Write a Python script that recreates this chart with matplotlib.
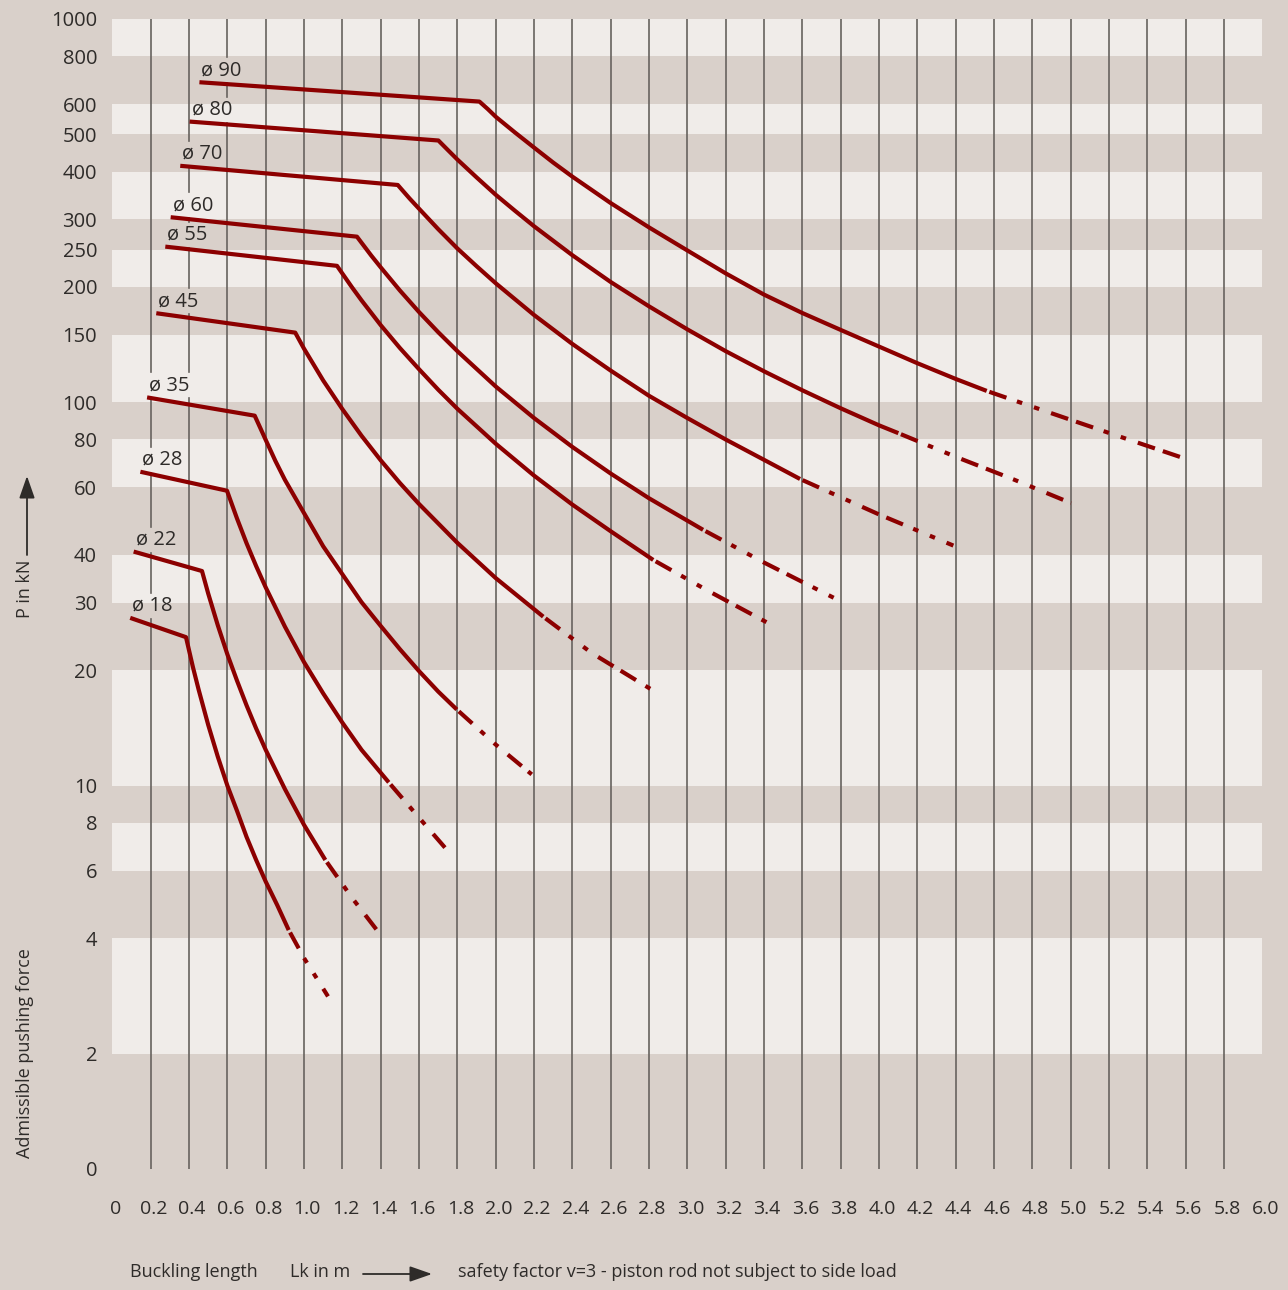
import matplotlib
matplotlib.use('Agg')
import matplotlib.pyplot as plt
import matplotlib.transforms as mtransforms
from matplotlib.patches import FancyArrowPatch

plt.rcParams['font.family'] = ['Open Sans', 'DejaVu Sans']
plt.rcParams['lines.scale_dashes'] = False

W, H = 1288, 1290
DARK = '#d9d0ca'
LIGHT = '#f0ece9'
RED = '#8c0000'
GRID = '#67625e'
INK = '#2e2b29'

# rod diameter labels
rods = ['ø 18', 'ø 22', 'ø 28', 'ø 35', 'ø 45', 'ø 55', 'ø 60', 'ø 70', 'ø 80', 'ø 90']

# buckling length Lk (m) and admissible pushing force P (kN), solid part
lk_18 = [0.093, 0.384, 0.42, 0.45, 0.5, 0.55, 0.6, 0.65, 0.7, 0.75, 0.8, 0.86, 0.92]
p_18 = [27.4, 24.4, 20.4, 17.8, 14.4, 11.9, 10.0, 8.6, 7.35, 6.4, 5.62, 4.88, 4.2]
lk_22 = [0.111, 0.4675, 0.5, 0.55, 0.6, 0.65, 0.7, 0.75, 0.8, 0.9, 1.0, 1.111]
p_22 = [40.8, 36.3, 31.7, 26.2, 22.0, 18.8, 16.2, 14.1, 12.4, 9.8, 7.9, 6.4]
lk_28 = [0.146, 0.598, 0.65, 0.7, 0.75, 0.8, 0.9, 1.0, 1.1, 1.2, 1.3, 1.442]
p_28 = [65.9, 58.8, 49.8, 42.9, 37.4, 32.9, 26.0, 21.0, 17.4, 14.6, 12.4, 10.2]
lk_35 = [0.181, 0.7425, 0.8, 0.85, 0.9, 1.0, 1.1, 1.2, 1.3, 1.4, 1.5, 1.6, 1.7, 1.797]
p_35 = [103, 92.3, 79.8, 70.4, 62.8, 51.4, 42.1, 35.6, 30.1, 26.1, 22.7, 19.9, 17.6, 15.8]
lk_45 = [0.229, 0.954, 1.0, 1.1, 1.2, 1.3, 1.4, 1.5, 1.6, 1.8, 2.0, 2.248]
p_45 = [170.8, 152, 138, 114, 96, 81.8, 70.6, 61.6, 54.3, 43.0, 34.8, 27.6]
lk_55 = [0.276, 1.172, 1.25, 1.3, 1.4, 1.5, 1.6, 1.7, 1.8, 2.0, 2.2, 2.4, 2.6, 2.822]
p_55 = [254.8, 227, 199.6, 184.5, 159, 138.6, 122, 107.9, 96.2, 78, 64.4, 54.1, 46.1, 38.8]
lk_60 = [0.304, 1.276, 1.35, 1.4, 1.5, 1.6, 1.7, 1.8, 2.0, 2.2, 2.4, 2.6, 2.8, 3.082]
p_60 = [304, 270.5, 241.7, 225, 195.8, 172, 152.4, 136, 110, 91, 76.5, 65.2, 56.2, 46.5]
lk_70 = [0.354, 1.489, 1.55, 1.6, 1.7, 1.8, 1.9, 2.0, 2.2, 2.4, 2.6, 2.8, 3.0, 3.2, 3.4, 3.588]
p_70 = [414, 369, 340.5, 320, 283, 252, 226.6, 204.5, 169, 142, 121, 104, 91, 80, 70.8, 63.1]
lk_80 = [0.403, 1.701, 1.75, 1.8, 1.9, 2.0, 2.1, 2.2, 2.4, 2.6, 2.8, 3.0, 3.2, 3.4, 3.6, 3.8,
         4.0, 4.101]
p_80 = [540, 482, 455.4, 430, 386.3, 348, 316.2, 288, 242, 206, 178, 155, 136, 120.5, 107.5,
        96.5, 87.1, 83.1]
lk_90 = [0.454, 1.915, 1.96, 2.0, 2.1, 2.2, 2.3, 2.4, 2.6, 2.8, 3.0, 3.2, 3.4, 3.6, 3.8, 4.0,
         4.2, 4.4, 4.562]
p_90 = [684, 609, 581.4, 556, 506, 462, 422.2, 388, 331, 286, 249, 217, 191, 171, 154.5,
        139.8, 126.5, 115.1, 107.1]

# continuation beyond the solid range (dash-dot)
lk_18x, p_18x = [0.92, 1.0, 1.125], [4.2, 3.55, 2.82]
lk_22x, p_22x = [1.111, 1.25, 1.38], [6.4, 5.1, 4.2]
lk_28x, p_28x = [1.442, 1.6, 1.751], [10.2, 8.25, 6.75]
lk_35x, p_35x = [1.797, 2.0, 2.188], [15.8, 12.8, 10.7]
lk_45x, p_45x = [2.248, 2.5, 2.822], [27.6, 22.2, 17.7]
lk_55x, p_55x = [2.822, 3.1, 3.437], [38.8, 32.4, 26.3]
lk_60x, p_60x = [3.082, 3.4, 3.77], [46.5, 38.2, 30.8]
lk_70x, p_70x = [3.588, 4.0, 4.388], [63.1, 51.0, 42.3]
lk_80x, p_80x = [4.101, 4.4, 4.7, 5.002], [83.1, 72.1, 63.0, 54.6]
lk_90x, p_90x = [4.562, 4.845, 5.188, 5.619], [107.1, 95.7, 83.6, 70.7]

solid = [(lk_18, p_18), (lk_22, p_22), (lk_28, p_28), (lk_35, p_35), (lk_45, p_45),
         (lk_55, p_55), (lk_60, p_60), (lk_70, p_70), (lk_80, p_80), (lk_90, p_90)]
ext = [(lk_18x, p_18x), (lk_22x, p_22x), (lk_28x, p_28x), (lk_35x, p_35x), (lk_45x, p_45x),
       (lk_55x, p_55x), (lk_60x, p_60x), (lk_70x, p_70x), (lk_80x, p_80x), (lk_90x, p_90x)]

# axis ticks
y_ticks = [1, 2, 4, 6, 8, 10, 20, 30, 40, 60, 80, 100, 150, 200, 250, 300, 400, 500, 600, 800, 1000]
y_labels = ['0', '2', '4', '6', '8', '10', '20', '30', '40', '60', '80', '100', '150', '200',
            '250', '300', '400', '500', '600', '800', '1000']
x_ticks = [i * 0.2 for i in range(31)]
x_labels = ['0'] + ['%.1f' % v for v in x_ticks[1:]]

# pale horizontal stripes
light_bands = [(800, 1000), (500, 600), (300, 400), (200, 250), (100, 150),
               (60, 80), (30, 40), (10, 20), (6, 8), (2, 4)]


def fx(px):
    return px / W


def fy(py):
    return 1 - py / H


fig = plt.figure(figsize=(W / 100, H / 100), dpi=100, facecolor=DARK)
ax = fig.add_axes([fx(112.4), fy(1169), fx(1262.3) - fx(112.4), fy(19) - fy(1169)])
ax.set_facecolor(DARK)
ax.set_yscale('log')
ax.set_xlim(0, 6.0)
ax.set_ylim(1, 1000)

for lo, hi in light_bands:
    ax.axhspan(lo, hi, color=LIGHT, lw=0, zorder=0)

dash_dot = (64, (13, 8, 4, 9, 4, 9, 13, 6))
labels = []
for (lk, p), (lkx, px_), name in zip(solid, ext, rods):
    ax.plot(lk, p, color=RED, lw=3.0, solid_capstyle='butt', solid_joinstyle='round', zorder=3)
    ax.plot(lkx, px_, color=RED, lw=3.0, linestyle=dash_dot, zorder=3)
    t = ax.annotate(name, (lk[0], p[0]), xytext=(1.5, 5), textcoords='offset points',
                    ha='left', va='baseline', fontsize=14.5, color=INK, zorder=4)
    labels.append(t)

for s in ax.spines.values():
    s.set_visible(False)

ax.yaxis.set_minor_locator(plt.NullLocator())
ax.set_yticks(y_ticks)
ax.set_yticklabels(y_labels)
ax.set_xticks(x_ticks)
ax.set_xticklabels(x_labels)
ax.tick_params(axis='y', length=0, pad=11, labelsize=14.5, labelcolor=INK)
ax.tick_params(axis='x', length=0, pad=22, labelsize=14, labelcolor=INK)
shift = mtransforms.ScaledTranslation(3 / 100, 0, fig.dpi_scale_trans)
for lab in ax.get_xticklabels():
    lab.set_transform(lab.get_transform() + shift)

# vertical rules, broken where a diameter label sits on them
fig.canvas.draw()
inv = ax.transData.inverted()
holes = []
for t in labels:
    bb = t.get_window_extent()
    (x0, y0), (x1, y1) = inv.transform([(bb.x0 - 2, bb.y0 - 3), (bb.x1 + 2, bb.y1 + 3)])
    holes.append((x0, x1, y0, y1))
for xv in x_ticks[1:-1]:
    cuts = sorted((y0, y1) for x0, x1, y0, y1 in holes if x0 <= xv <= x1)
    start = 1
    for y0, y1 in cuts:
        ax.plot([xv, xv], [start, y0], color=GRID, lw=1.2, zorder=1)
        start = y1
    ax.plot([xv, xv], [start, 1000], color=GRID, lw=1.2, zorder=1)

# captions
fig.text(fx(25), fy(1053), 'Admissible pushing force', rotation=90, ha='center', va='center',
         fontsize=13, color=INK)
fig.text(fx(25), fy(618), 'P in kN', rotation=90, ha='center', va='bottom', fontsize=13, color=INK)
fig.add_artist(FancyArrowPatch((fx(27), fy(555)), (fx(27), fy(476)), transform=fig.transFigure,
                               arrowstyle='-|>,head_length=0.8,head_width=0.28', mutation_scale=17,
                               lw=1.3, color=INK, shrinkA=0, shrinkB=0))

fig.text(fx(130), fy(1272), 'Buckling length', ha='left', va='center', fontsize=13, color=INK)
fig.text(fx(290), fy(1272), 'Lk in m', ha='left', va='center', fontsize=13, color=INK)
fig.add_artist(FancyArrowPatch((fx(363), fy(1274)), (fx(432), fy(1274)), transform=fig.transFigure,
                               arrowstyle='-|>,head_length=0.8,head_width=0.28', mutation_scale=17,
                               lw=1.3, color=INK, shrinkA=0, shrinkB=0))
fig.text(fx(458), fy(1272), 'safety factor v=3 - piston rod not subject to side load',
         ha='left', va='center', fontsize=13, color=INK)

fig.savefig('out.png', dpi=100, facecolor=DARK)
